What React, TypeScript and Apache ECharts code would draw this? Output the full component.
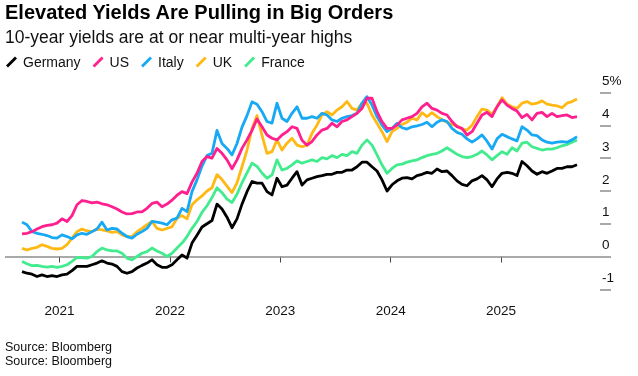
import React, { useEffect, useRef } from "react";
import * as echarts from "echarts";

// sampling grid (fractional years), one sample every ~16.5 days
const START_YEAR = 2020.6603;
const STEP_YEARS = 0.04529;

const germany = [
  -0.46, -0.51, -0.54, -0.61, -0.56, -0.61, -0.58, -0.61, -0.56, -0.54, -0.43, -0.3, -0.3, -0.3, -0.25, -0.2, -0.13, -0.2, -0.23,
  -0.3, -0.46, -0.51, -0.46, -0.35, -0.27, -0.2, -0.1, -0.25, -0.33, -0.33, -0.25, -0.1, 0.05, -0.05, 0.41, 0.65, 0.9, 1.0,
  1.1, 1.6, 1.45, 1.2, 0.88, 1.15, 1.6, 1.98, 2.29, 2.24, 2.24, 1.98, 1.88, 2.39, 2.13, 2.18, 2.39, 2.59, 2.18,
  2.34, 2.39, 2.44, 2.47, 2.51, 2.51, 2.57, 2.57, 2.64, 2.64, 2.74, 2.88, 2.88, 2.74, 2.61, 2.34, 2.0, 2.19, 2.31,
  2.39, 2.41, 2.37, 2.47, 2.51, 2.57, 2.54, 2.67, 2.59, 2.61, 2.47, 2.31, 2.2, 2.16, 2.31, 2.37, 2.47, 2.34, 2.13,
  2.37, 2.54, 2.57, 2.54, 2.47, 2.9, 2.77, 2.61, 2.51, 2.59, 2.54, 2.61, 2.69, 2.69, 2.74, 2.74, 2.8,
];
const us = [
  0.69, 0.71, 0.76, 0.84, 0.91, 0.95, 0.97, 1.02, 1.15, 1.07, 1.25, 1.58, 1.71, 1.68, 1.64, 1.66, 1.61, 1.58, 1.52,
  1.45, 1.36, 1.3, 1.31, 1.36, 1.36, 1.47, 1.62, 1.66, 1.52, 1.6, 1.72, 1.87, 1.98, 1.92, 2.27, 2.54, 2.9, 3.05,
  3.0, 3.3, 3.15, 2.95, 2.68, 2.95, 3.3, 3.56, 3.85, 4.2, 3.96, 3.71, 3.61, 3.56, 3.71, 3.81, 3.96, 3.91, 3.55,
  3.4, 3.51, 3.71, 3.86, 3.91, 4.07, 3.96, 4.12, 4.17, 4.27, 4.37, 4.52, 4.83, 4.83, 4.42, 4.12, 3.91, 3.91, 4.01,
  4.17, 4.22, 4.27, 4.37, 4.57, 4.68, 4.52, 4.47, 4.37, 4.32, 4.12, 3.96, 3.91, 3.71, 3.81, 4.07, 4.32, 4.4, 4.27,
  4.57, 4.78, 4.62, 4.52, 4.44, 4.24, 4.34, 4.17, 4.37, 4.4, 4.27, 4.37, 4.27, 4.3, 4.32, 4.24, 4.27,
];
const italy = [
  1.05, 0.97, 0.76, 0.71, 0.68, 0.64, 0.58, 0.56, 0.66, 0.61, 0.54, 0.66, 0.71, 0.68, 0.76, 0.84, 1.05, 0.81, 0.86,
  0.84, 0.71, 0.61, 0.56, 0.68, 0.76, 0.86, 1.07, 1.05, 1.02, 0.97, 1.12, 1.17, 1.47, 1.37, 1.98, 2.34, 2.76, 3.08,
  3.15, 3.85, 3.45, 3.3, 3.1, 3.45, 3.95, 4.3, 4.72, 4.65, 4.42, 4.12, 4.07, 4.68, 4.22, 4.12, 4.37, 4.57, 4.22,
  4.22, 4.27, 4.22, 4.37, 4.32, 4.17, 4.12, 4.22, 4.27, 4.3, 4.37, 4.68, 4.88, 4.62, 4.27, 4.01, 3.81, 3.91, 4.07,
  3.93, 3.89, 3.96, 3.99, 4.03, 4.1, 3.96, 4.1, 4.17, 4.12, 3.91, 3.79, 3.73, 3.59, 3.49, 3.59, 3.71, 3.52, 3.28,
  3.59, 3.73, 3.66, 3.59, 3.53, 3.96, 3.86, 3.71, 3.69, 3.56, 3.49, 3.46, 3.49, 3.51, 3.49, 3.56, 3.66,
];
const uk = [
  0.25, 0.2, 0.25, 0.28, 0.36, 0.31, 0.25, 0.23, 0.25, 0.36, 0.56, 0.76, 0.84, 0.78, 0.76, 0.84, 0.81, 0.78, 0.74,
  0.76, 0.66, 0.61, 0.61, 0.76, 0.86, 0.97, 1.07, 0.86, 0.81, 0.86, 0.91, 1.17, 1.25, 1.15, 1.58, 1.73, 1.85, 2.0,
  2.1, 2.5, 2.35, 2.15, 1.95, 2.25, 2.74, 3.25, 3.9, 4.3, 3.7, 3.15, 3.2, 3.56, 3.25, 3.46, 3.61, 3.4, 3.35,
  3.4, 3.76, 4.01, 4.32, 4.42, 4.32, 4.47, 4.57, 4.73, 4.52, 4.47, 4.68, 4.68, 4.32, 4.07, 3.81, 3.51, 3.81, 3.91,
  4.03, 4.1, 4.22, 4.17, 4.39, 4.27, 4.39, 4.27, 4.17, 4.1, 4.03, 3.99, 3.89, 3.86, 4.01, 4.27, 4.5, 4.47, 4.34,
  4.57, 4.85, 4.65, 4.57, 4.52, 4.68, 4.73, 4.65, 4.68, 4.75, 4.65, 4.62, 4.6, 4.54, 4.68, 4.73, 4.81,
];
const france = [
  -0.15, -0.22, -0.28, -0.27, -0.3, -0.32, -0.3, -0.33, -0.3, -0.25, -0.15, -0.03, -0.03, -0.05, 0.0, 0.15, 0.26, 0.2, 0.17,
  0.17, 0.1, -0.05, -0.1, 0.0, 0.1, 0.15, 0.26, 0.17, 0.1, 0.0, 0.1, 0.26, 0.41, 0.61, 0.86, 1.07, 1.35, 1.55,
  1.8, 2.1, 1.95, 1.75, 1.65, 1.9, 2.25, 2.55, 2.85, 2.75, 2.55, 2.39, 2.49, 2.95, 2.64, 2.69, 2.8, 2.92, 2.85,
  2.9, 2.95, 2.9, 3.02, 2.98, 3.08, 3.02, 3.12, 3.08, 3.2, 3.15, 3.4, 3.56, 3.4, 3.1, 2.8, 2.54, 2.69, 2.8,
  2.82, 2.88, 2.92, 2.95, 3.02, 3.08, 3.12, 3.15, 3.22, 3.32, 3.22, 3.12, 3.05, 3.02, 3.05, 3.12, 3.22, 3.1, 2.95,
  3.08, 3.2, 3.12, 3.32, 3.22, 3.46, 3.49, 3.35, 3.3, 3.25, 3.28, 3.28, 3.32, 3.38, 3.42, 3.49, 3.56,
];

const yearTicks = [2021, 2022, 2023, 2024, 2025];
const seriesNames = ["Germany", "US", "Italy", "UK", "France"];
const seriesValues: Record<string, number[]> = {
  Germany: germany,
  US: us,
  Italy: italy,
  UK: uk,
  France: france,
};
const seriesColors: Record<string, string> = {
  Germany: "#000000",
  US: "#ff1f8e",
  Italy: "#17a9f4",
  UK: "#ffb814",
  France: "#42ec8e",
};

const FONT = "'Liberation Sans', Arial, Helvetica, sans-serif";

export default function App() {
  const ref = useRef<HTMLDivElement>(null);

  useEffect(() => {
    document.body.style.margin = "0";
    if (!ref.current) return;
    const chart = echarts.init(ref.current, undefined, { renderer: "svg" });

    const drawOrder = [...seriesNames].reverse();
    const series: any[] = drawOrder.map((name, k) => ({
      name,
      type: "line",
      data: seriesValues[name].map((v, i) => [START_YEAR + i * STEP_YEARS, v]),
      showSymbol: false,
      symbol: "none",
      lineStyle: { color: seriesColors[name], width: 2.8, join: "round" },
      itemStyle: { color: seriesColors[name] },
      z: 2 + k,
      markLine:
        k === 0
          ? {
              silent: true,
              symbol: ["none", "none"],
              label: { show: false },
              lineStyle: { color: "#8c8c8c", width: 1.6, type: "solid" },
              data: [{ yAxis: 0 }],
              z: 1,
            }
          : undefined,
    }));

    chart.setOption({
      animation: false,
      textStyle: { fontFamily: FONT },
      title: [
        {
          text: "Elevated Yields Are Pulling in Big Orders",
          left: 5,
          top: 2,
          padding: 0,
          textStyle: { fontSize: 20, fontWeight: "bold", color: "#000", fontFamily: FONT },
        },
        {
          text: "10-year yields are at or near multi-year highs",
          left: 5,
          top: 28,
          padding: 0,
          textStyle: { fontSize: 17.5, fontWeight: "normal", color: "#111", fontFamily: FONT },
        },
        {
          text: "Source: Bloomberg",
          left: 5,
          top: 340,
          padding: 0,
          textStyle: { fontSize: 12.5, fontWeight: "normal", color: "#111", fontFamily: FONT },
        },
        {
          text: "Source: Bloomberg",
          left: 5,
          top: 354,
          padding: 0,
          textStyle: { fontSize: 12.5, fontWeight: "normal", color: "#111", fontFamily: FONT },
        },
      ],
      legend: {
        data: seriesNames,
        left: 6,
        top: 55,
        padding: 0,
        itemGap: 12,
        itemWidth: 11,
        itemHeight: 11,
        icon: "path://M0,9 L9,0 L11,2 L2,11 Z",
        textStyle: { fontSize: 14, color: "#111", fontFamily: FONT, padding: [0, 0, 0, 1] },
      },
      grid: { left: 5, right: 38, top: 92.7, bottom: 86.7, containLabel: false },
      xAxis: {
        type: "value",
        min: 2020.5063,
        max: 2025.8958,
        axisLine: { show: false },
        splitLine: { show: false },
        axisTick: {
          show: true,
          customValues: yearTicks,
          length: 6,
          lineStyle: { color: "#444", width: 1 },
        },
        axisLabel: {
          customValues: yearTicks,
          formatter: (v: number) => String(Math.round(v)),
          margin: 14,
          fontSize: 13.5,
          color: "#111",
          fontFamily: FONT,
        },
      },
      yAxis: {
        type: "value",
        position: "right",
        min: -1,
        max: 5,
        interval: 1,
        axisLine: { show: false },
        splitLine: { show: false },
        axisTick: { show: true, length: 11, lineStyle: { color: "#8c8c8c", width: 1.5 } },
        axisLabel: {
          margin: 2,
          align: "left",
          verticalAlign: "bottom",
          padding: [0, 0, 5, 0],
          fontSize: 13.5,
          color: "#111",
          fontFamily: FONT,
          formatter: (v: number) => (v === 5 ? "5%" : String(v)),
        },
      },
      series,
    });

    return () => chart.dispose();
  }, []);

  return (
    <div
      ref={ref}
      style={{ position: "fixed", left: 0, top: 0, width: 638, height: 376 }}
    />
  );
}
